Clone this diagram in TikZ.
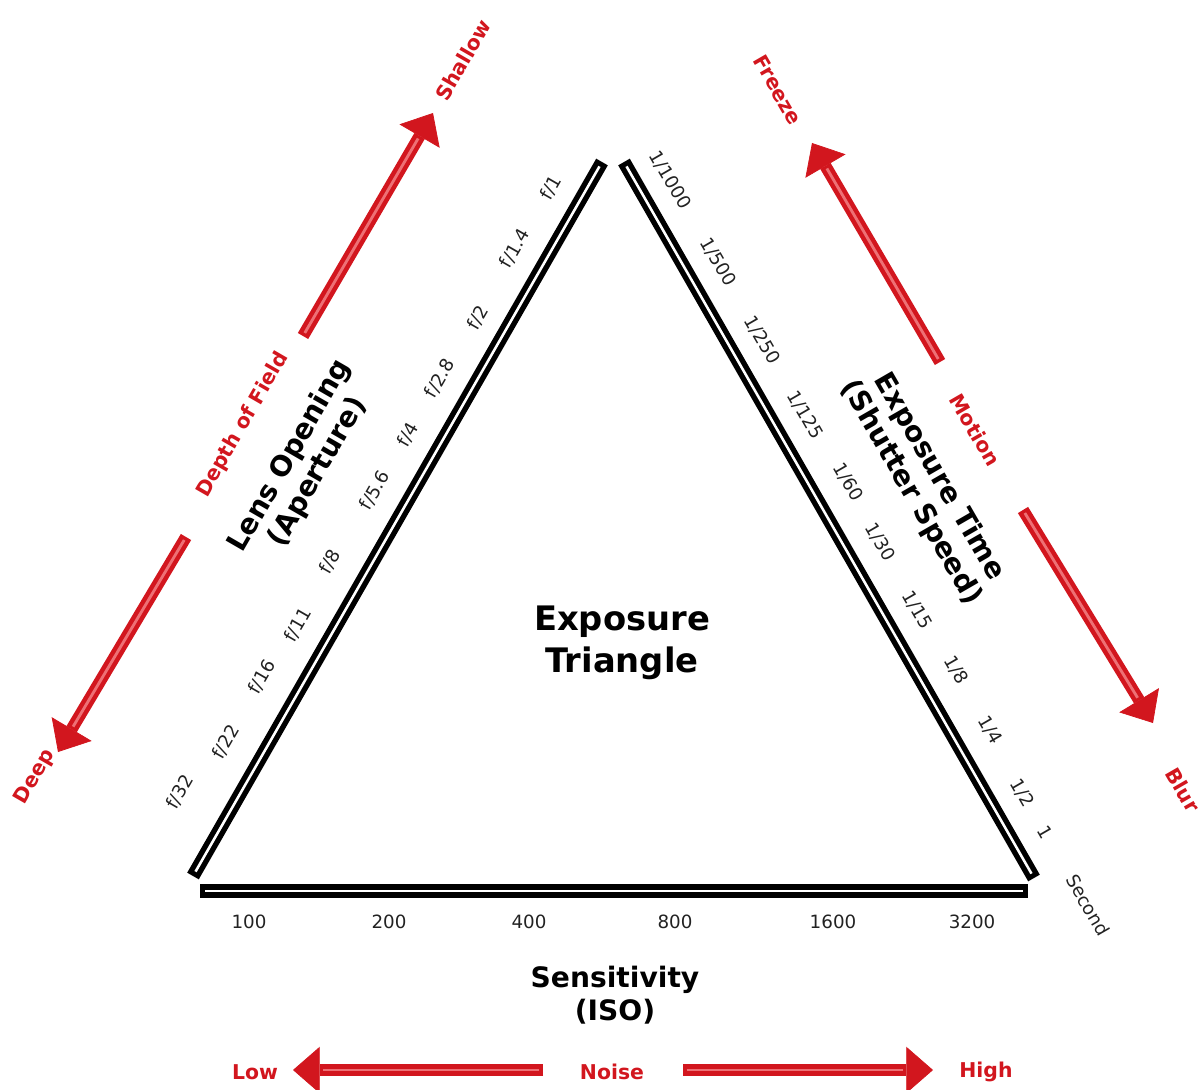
\documentclass[tikz,border=0pt]{standalone}
\usepackage{fontspec}
\setmainfont{DejaVu Sans}
\usetikzlibrary{arrows.meta}
\definecolor{signalred}{HTML}{D2161E}
\definecolor{signalcore}{HTML}{EE7075}
\definecolor{ticktext}{HTML}{222222}

\begin{document}
\begin{tikzpicture}[x=0.025cm,y=-0.025cm,
	bar/.style={line width=9.5pt},
	barcore/.style={white,line width=1.8pt,shorten <=3.6pt,shorten >=3.6pt},
	hint/.style={draw=signalred,line width=8.5pt,-{Triangle[length=19pt,width=33pt,line width=0.5pt]}},
	hintcore/.style={signalcore,line width=2pt,shorten <=2.5pt,shorten >=21pt},
	hintlabel/.style={text=signalred,inner sep=0.5pt,font=\bfseries\fontsize{14.5}{17}\selectfont},
	tick/.style={text=ticktext,inner sep=0.5pt,font=\fontsize{13}{15}\selectfont},
	heading/.style={inner sep=1pt,font=\bfseries\fontsize{20}{23}\selectfont,align=center}]
	\useasboundingbox (0,0) rectangle (1203,1090);

	\coordinate (lb) at (193,876);
	\coordinate (lt) at (602,162);
	\coordinate (rt) at (624,162);
	\coordinate (rb) at (1034,878);
	\coordinate (bl) at (200,891);
	\coordinate (br) at (1028,891);
	\foreach \a/\b in {lb/lt,rt/rb,bl/br}{
		\draw[bar] (\a) -- (\b);
		\draw[barcore] (\a) -- (\b);
	}

	\node[font=\bfseries\fontsize{24}{30}\selectfont,align=center] (title) at (622,643) {Exposure\\Triangle};
	\node[heading,rotate=60] (aperture) at (304,464) {Lens Opening\\(Aperture)};
	\node[heading,rotate=-60] (shutter) at (925,485) {Exposure Time\\(Shutter Speed)};
	\node[heading] (iso) at (615,995) {Sensitivity\\(ISO)};

	\foreach \lab/\px/\py [count=\i] in {{f/1}/551/188,{f/1.4}/515/248,{f/2}/478/318,{f/2.8}/440/378,{f/4}/408/435,{f/5.6}/375/490,{f/8}/330/562,{f/11}/298/625,{f/16}/262/677,{f/22}/226/742,{f/32}/180/792}
		\node[tick,rotate=60] (fstop\i) at (\px,\py) {\lab};
	\foreach \lab/\px/\py [count=\i] in {{1/1000}/670/180,{1/500}/718/262,{1/250}/762/340,{1/125}/805/415,{1/60}/848/482,{1/30}/880/542,{1/15}/917/610,{1/8}/956/670,{1/4}/990/730,{1/2}/1022/793,{1}/1045/832,{Second}/1088/905}
		\node[tick,rotate=-60] (speed\i) at (\px,\py) {\lab};
	\foreach \lab/\px [count=\i] in {100/249,200/389,400/529,800/675,1600/833,3200/972}
		\node[tick] (iso\i) at (\px,922) {\lab};

	\node[hintlabel,rotate=60] (shallow) at (463,60) {Shallow};
	\node[hintlabel,rotate=60] (dof) at (243,425) {Depth of Field};
	\node[hintlabel,rotate=60] (deep) at (35,777) {Deep};
	\node[hintlabel,rotate=-60] (freeze) at (778,90) {Freeze};
	\node[hintlabel,rotate=-60] (motion) at (975,430) {Motion};
	\node[hintlabel,rotate=-60] (blur) at (1183,790) {Blur};
	\node[hintlabel] (low) at (255,1072) {Low};
	\node[hintlabel] (noise) at (612,1072) {Noise};
	\node[hintlabel] (high) at (986,1072) {High};

	\coordinate (shallow-a) at (303,336);
	\coordinate (shallow-b) at (433,113);
	\coordinate (deep-a) at (186,537);
	\coordinate (deep-b) at (58,752);
	\coordinate (freeze-a) at (940,362);
	\coordinate (freeze-b) at (812,143);
	\coordinate (blur-a) at (1023,510);
	\coordinate (blur-b) at (1153,723);
	\coordinate (low-a) at (543,1070);
	\coordinate (low-b) at (293,1070);
	\coordinate (high-a) at (683,1070);
	\coordinate (high-b) at (933,1070);
	\foreach \s in {shallow,deep,freeze,blur,low,high}{
		\draw[hint] (\s-a) -- (\s-b);
		\draw[hintcore] (\s-a) -- (\s-b);
	}
\end{tikzpicture}
\end{document}
